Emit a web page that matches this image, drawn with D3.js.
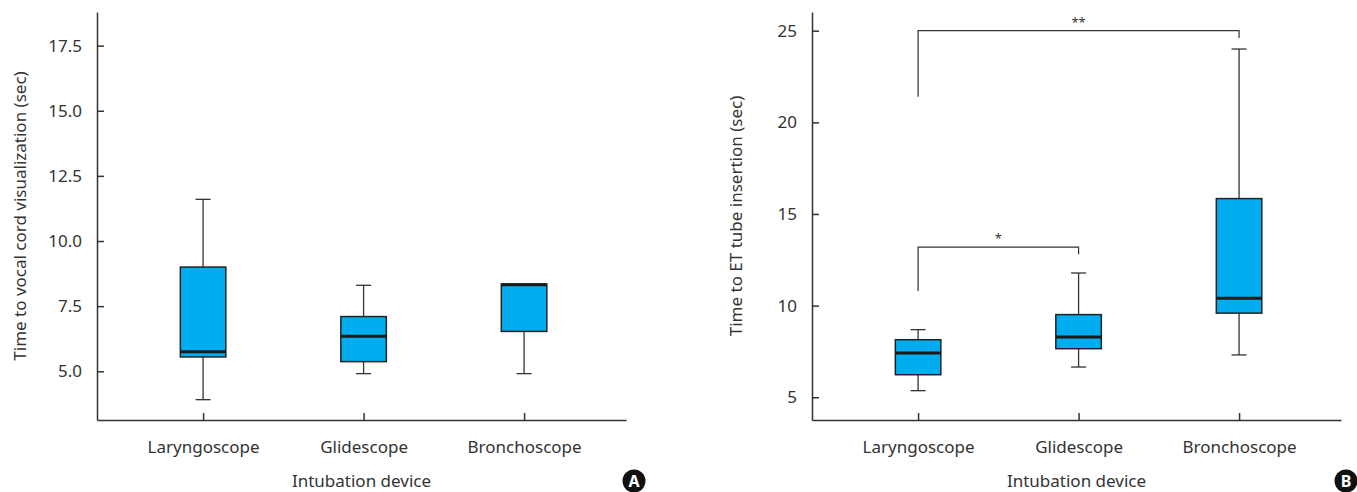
<!DOCTYPE html>
<html><head><meta charset="utf-8">
<script src="https://cdn.jsdelivr.net/npm/d3@7"></script>
<style>
body{margin:0;background:#fff;}
svg{display:block;font-family:"Noto Sans",sans-serif;}
</style></head>
<body>
<svg id="c" width="1357" height="492"></svg>
<script>
const categories = ["Laryngoscope", "Glidescope", "Bronchoscope"];
// Panel A: time to vocal cord visualization (sec)
const aMin    = [3.91, 4.91, 4.91];
const aQ1     = [5.55, 5.37, 6.53];
const aMedian = [5.75, 6.34, 8.32];
const aQ3     = [9.00, 7.10, 8.35];
const aMax    = [11.6, 8.30, 8.35];
const aTicks  = [5.0, 7.5, 10.0, 12.5, 15.0, 17.5];
// Panel B: time to ET tube insertion (sec)
const bMin    = [5.36, 6.65, 7.31];
const bQ1     = [6.23, 7.65, 9.59];
const bMedian = [7.42, 8.29, 10.40];
const bQ3     = [8.14, 9.51, 15.84];
const bMax    = [8.69, 11.78, 24.0];
const bTicks  = [5, 10, 15, 20, 25];
// significance brackets: [from index, to index, y of bar, left foot y, right foot y, label]
const bBrackets = [
  {from: 0, to: 1, y: 13.19, yl: 10.8, yr: 12.8, label: "*"},
  {from: 0, to: 2, y: 25.0, yl: 21.4, yr: 24.6, label: "**"}
];

const svg = d3.select("#c");
const dark = "#333";

function panel(opt) {
  const g = svg.append("g");
  const x = d3.scalePoint().domain(categories).range([opt.x0, opt.x1]).padding(0.648).align(0.51);
  const y = d3.scaleLinear().domain(opt.domain).range([420, 12]);

  const ya = g.append("g").attr("transform", `translate(${opt.x0},0)`)
    .call(d3.axisLeft(y).tickValues(opt.ticks).tickFormat(opt.fmt).tickSizeInner(-7).tickSizeOuter(0).tickPadding(15));
  const xa = g.append("g").attr("transform", `translate(0,420)`)
    .call(d3.axisBottom(x).tickSizeInner(-7).tickSizeOuter(0).tickPadding(21));
  [ya, xa].forEach(a => {
    a.selectAll("path.domain").attr("stroke", dark).attr("stroke-width", 1.5);
    a.selectAll(".tick line").attr("stroke", dark).attr("stroke-width", 1.5);
    a.selectAll(".tick text").attr("fill", dark).style("font-size", "17px").style("font-family", '"Noto Sans",sans-serif');
  });

  const data = categories.map((c, i) => ({c, min: opt.min[i], q1: opt.q1[i], med: opt.med[i], q3: opt.q3[i], max: opt.max[i]}));
  const hw = 22.75, cw = 7.5;
  const bx = g.append("g").selectAll("g").data(data).join("g");
  // whiskers
  bx.append("line").attr("x1", d => x(d.c)).attr("x2", d => x(d.c))
    .attr("y1", d => y(d.q3)).attr("y2", d => y(d.max)).attr("stroke", dark).attr("stroke-width", 1.3);
  bx.append("line").attr("x1", d => x(d.c)).attr("x2", d => x(d.c))
    .attr("y1", d => y(d.q1)).attr("y2", d => y(d.min)).attr("stroke", dark).attr("stroke-width", 1.3);
  bx.filter(d => d.max > d.q3).append("line").attr("x1", d => x(d.c) - cw).attr("x2", d => x(d.c) + cw)
    .attr("y1", d => y(d.max)).attr("y2", d => y(d.max)).attr("stroke", dark).attr("stroke-width", 1.3);
  bx.append("line").attr("x1", d => x(d.c) - cw).attr("x2", d => x(d.c) + cw)
    .attr("y1", d => y(d.min)).attr("y2", d => y(d.min)).attr("stroke", dark).attr("stroke-width", 1.3);
  // box
  bx.append("rect").attr("x", d => x(d.c) - hw).attr("width", 2 * hw)
    .attr("y", d => y(d.q3)).attr("height", d => y(d.q1) - y(d.q3))
    .attr("fill", "#00AEEF").attr("stroke", "#222").attr("stroke-width", 1.5);
  bx.append("line").attr("x1", d => x(d.c) - hw).attr("x2", d => x(d.c) + hw)
    .attr("y1", d => y(d.med)).attr("y2", d => y(d.med)).attr("stroke", "#1a1a1a").attr("stroke-width", 3);

  // brackets
  (opt.brackets || []).forEach(b => {
    const xl = x(categories[b.from]), xr = x(categories[b.to]);
    g.append("path")
      .attr("d", `M${xl},${y(b.yl)}V${y(b.y)}H${xr}V${y(b.yr)}`)
      .attr("fill", "none").attr("stroke", dark).attr("stroke-width", 1.2);
    g.append("text").attr("x", (xl + xr) / 2).attr("y", y(b.y) - 4)
      .attr("text-anchor", "middle").attr("fill", dark).style("font-size", "13px").text(b.label);
  });

  // titles
  g.append("text").attr("transform", `translate(${opt.titleX},216) rotate(-90)`)
    .attr("text-anchor", "middle").attr("dominant-baseline", "central")
    .attr("fill", dark).style("font-size", "17px").text(opt.yTitle);
  g.append("text").attr("x", (opt.x0 + opt.x1) / 2).attr("y", 487)
    .attr("text-anchor", "middle").attr("fill", dark).style("font-size", "17px").text("Intubation device");

  // badge
  g.append("circle").attr("cx", opt.badgeX).attr("cy", 481).attr("r", 11.5).attr("fill", "#111");
  g.append("text").attr("x", opt.badgeX).attr("y", 481).attr("dy", "0.36em")
    .attr("text-anchor", "middle").attr("fill", "#fff").style("font-size", "16px").style("font-weight", "bold")
    .text(opt.badge);
}

panel({x0: 97, x1: 626, domain: [3.13, 18.79], ticks: aTicks, fmt: d3.format(".1f"),
  min: aMin, q1: aQ1, med: aMedian, q3: aQ3, max: aMax,
  yTitle: "Time to vocal cord visualization (sec)", titleX: 19, badge: "A", badgeX: 634});
panel({x0: 812, x1: 1341, domain: [3.76, 26.02], ticks: bTicks, fmt: d3.format("d"),
  min: bMin, q1: bQ1, med: bMedian, q3: bQ3, max: bMax, brackets: bBrackets,
  yTitle: "Time to ET tube insertion (sec)", titleX: 735, badge: "B", badgeX: 1346});
</script>
</body></html>
